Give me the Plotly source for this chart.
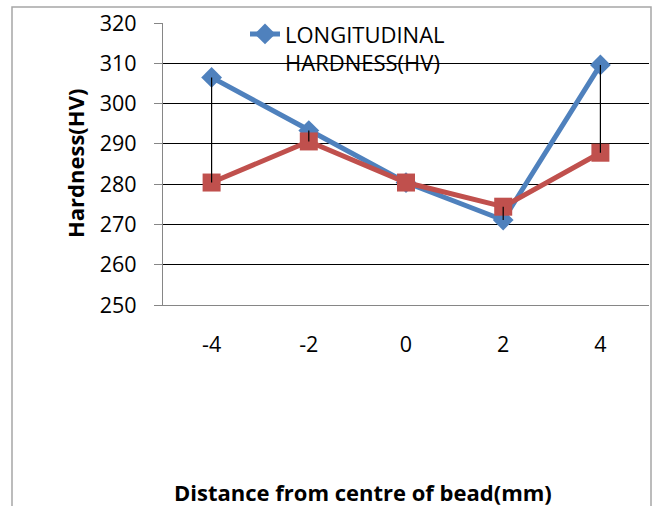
import plotly.graph_objects as go

categories = ["-4", "-2", "0", "2", "4"]
longitudinal = [306.5, 293.3, 280.4, 271.1, 309.6]
transverse = [280.4, 290.6, 280.4, 274.4, 287.8]
y_ticks = [250, 260, 270, 280, 290, 300, 310, 320]

FONT = "Open Sans"
BLUE = "#4F81BD"
RED = "#C0504D"

fig = go.Figure()
fig.add_trace(go.Scatter(
    x=categories, y=longitudinal, mode="lines+markers",
    name="LONGITUDINAL<br>HARDNESS(HV)",
    line=dict(color=BLUE, width=5),
    marker=dict(symbol="diamond", size=16, color=BLUE),
))
fig.add_trace(go.Scatter(
    x=categories, y=transverse, mode="lines+markers",
    name="TRANSVERSE HARDNESS(HV)", showlegend=False,
    line=dict(color=RED, width=5),
    marker=dict(symbol="square", size=18, color=RED),
))
# high-low lines between the two series
hx, hy = [], []
for c, a, b in zip(categories, longitudinal, transverse):
    hx += [c, c, None]
    hy += [a, b, None]
fig.add_trace(go.Scatter(x=hx, y=hy, mode="lines", showlegend=False,
                         line=dict(color="black", width=1.2), hoverinfo="skip"))

L, R, T, B = 163, 8, 23, 201
W, H = 657, 506
pw, ph = W - L - R, H - T - B

fig.update_layout(
    width=W, height=H,
    margin=dict(l=L, r=R, t=T, b=B),
    paper_bgcolor="white", plot_bgcolor="white",
    font=dict(family=FONT, size=21, color="black"),
    legend=dict(x=(245 - L) / pw, y=1.035, xanchor="left", yanchor="top",
                bgcolor="rgba(0,0,0,0)", font=dict(size=22), valign="top",
                itemwidth=30),
    xaxis=dict(type="category", range=[-0.5, 4.5], showgrid=False,
               showline=True, linecolor="#868686", linewidth=1.3,
               ticks="outside", ticklen=20, tickcolor="rgba(0,0,0,0)",
               tickfont=dict(size=21.5)),
    yaxis=dict(range=[250, 320], tickvals=y_ticks, showgrid=True,
               gridcolor="black", gridwidth=1.3, zeroline=False,
               showline=True, linecolor="#868686", linewidth=1.3,
               ticks="outside", ticklen=8, tickcolor="#868686",
               ticklabelstandoff=13, tickfont=dict(size=21.5)),
    shapes=[dict(type="rect", xref="paper", yref="paper",
                 x0=(12 - L) / pw, x1=(651 - L) / pw,
                 y0=-0.75, y1=(H - B - 7) / ph,
                 line=dict(color="#A6A6A6", width=1.5), layer="below")],
    annotations=[
        dict(text="<b>Hardness(HV)</b>", xref="paper", yref="paper",
             x=(75 - L) / pw, y=0.5, xanchor="center", yanchor="middle",
             textangle=-90, showarrow=False, font=dict(size=22)),
        dict(text="<b>Distance from centre of bead(mm)</b>", xref="paper", yref="paper",
             x=(363 - L) / pw, y=(H - B - 492) / ph, xanchor="center", yanchor="middle",
             showarrow=False, font=dict(size=22)),
    ],
)
fig.write_html("out.html", config={"displayModeBar": False},
               post_script="document.body.style.margin='0';document.body.style.overflow='hidden';")
